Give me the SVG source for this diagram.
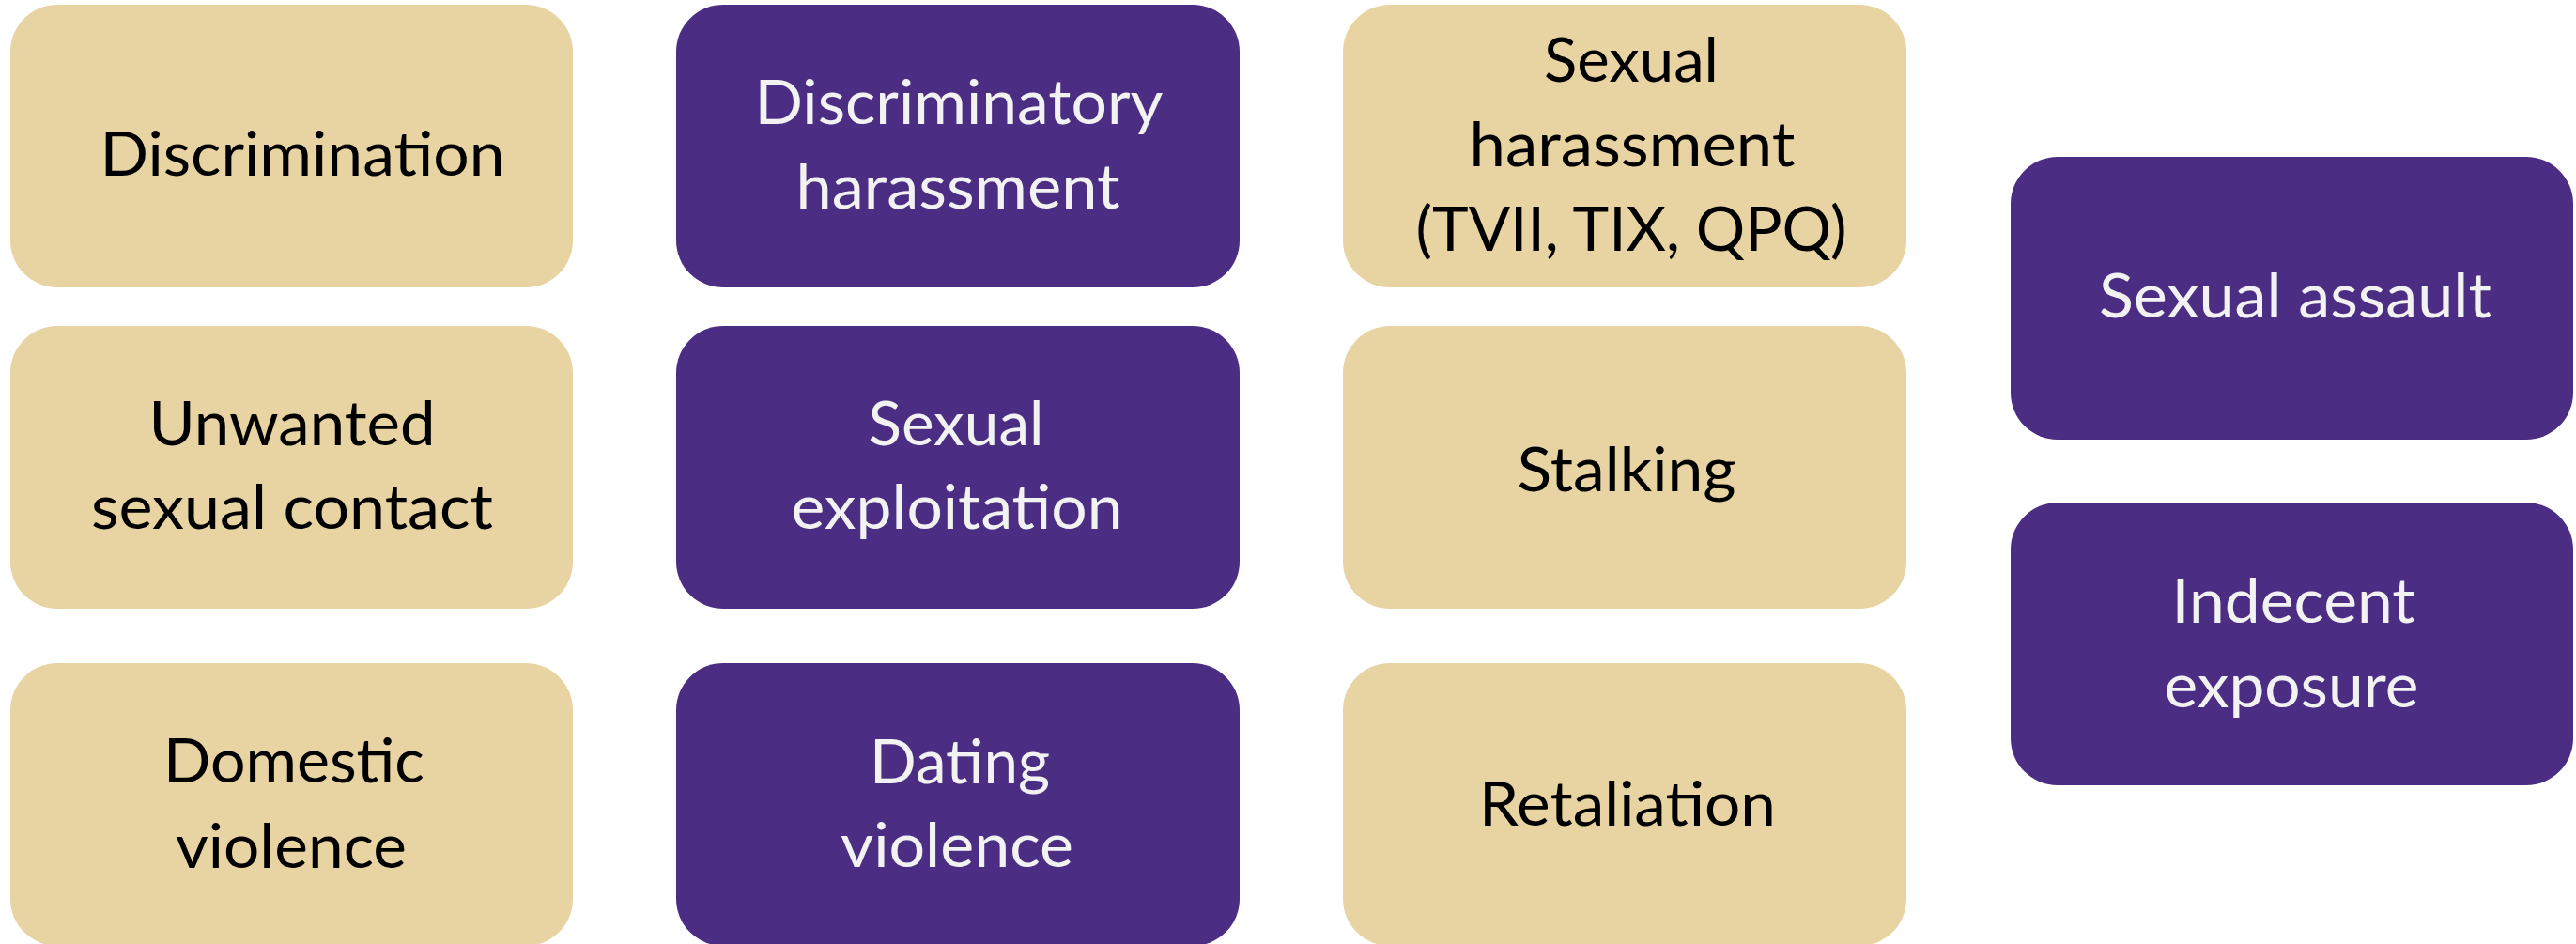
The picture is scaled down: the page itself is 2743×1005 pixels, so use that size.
<svg xmlns="http://www.w3.org/2000/svg" width="2743" height="1005" viewBox="0 0 2743 1005">
<style>
.gold{fill:#E8D3A2}
.purple{fill:#4B2E83}
text{font-family:Lato,"Open Sans","Liberation Sans",sans-serif;font-size:66px;text-anchor:middle}
.dk{fill:#000000}
.lt{fill:#F2F2F2}
</style>
<rect width="2743" height="1005" fill="#FFFFFF"/>
<g id="connectors"/>
<g id="n-discrimination">
<rect class="gold" x="11" y="5" width="599" height="301" rx="50" ry="50"/>
<text class="dk" x="322" y="187" textLength="431" lengthAdjust="spacingAndGlyphs">Discrimination</text>
</g>
<g id="n-unwanted">
<rect class="gold" x="11" y="347" width="599" height="301" rx="50" ry="50"/>
<text class="dk" x="311" y="474" textLength="305" lengthAdjust="spacingAndGlyphs">Unwanted</text>
<text class="dk" x="311" y="563" textLength="428" lengthAdjust="spacingAndGlyphs">sexual contact</text>
</g>
<g id="n-domestic">
<rect class="gold" x="11" y="706" width="599" height="301" rx="50" ry="50"/>
<text class="dk" x="313" y="833" textLength="278" lengthAdjust="spacingAndGlyphs">Domestic</text>
<text class="dk" x="310" y="924" textLength="246" lengthAdjust="spacingAndGlyphs">violence</text>
</g>
<g id="n-discriminatory-harassment">
<rect class="purple" x="720" y="5" width="600" height="301" rx="50" ry="50"/>
<text class="lt" x="1021" y="132" textLength="435" lengthAdjust="spacingAndGlyphs">Discriminatory</text>
<text class="lt" x="1020" y="222" textLength="345" lengthAdjust="spacingAndGlyphs">harassment</text>
</g>
<g id="n-sexual-exploitation">
<rect class="purple" x="720" y="347" width="600" height="301" rx="50" ry="50"/>
<text class="lt" x="1018" y="474" textLength="187" lengthAdjust="spacingAndGlyphs">Sexual</text>
<text class="lt" x="1019" y="563" textLength="353" lengthAdjust="spacingAndGlyphs">exploitation</text>
</g>
<g id="n-dating-violence">
<rect class="purple" x="720" y="706" width="600" height="301" rx="50" ry="50"/>
<text class="lt" x="1022" y="834" textLength="192" lengthAdjust="spacingAndGlyphs">Dating</text>
<text class="lt" x="1019" y="923" textLength="248" lengthAdjust="spacingAndGlyphs">violence</text>
</g>
<g id="n-sexual-harassment">
<rect class="gold" x="1430" y="5" width="600" height="301" rx="50" ry="50"/>
<text class="dk" x="1737" y="87" textLength="186" lengthAdjust="spacingAndGlyphs">Sexual</text>
<text class="dk" x="1738" y="177" textLength="347" lengthAdjust="spacingAndGlyphs">harassment</text>
<text class="dk" x="1737" y="267" textLength="459" lengthAdjust="spacingAndGlyphs">(TVII, TIX, QPQ)</text>
</g>
<g id="n-stalking">
<rect class="gold" x="1430" y="347" width="600" height="301" rx="50" ry="50"/>
<text class="dk" x="1732" y="523" textLength="233" lengthAdjust="spacingAndGlyphs">Stalking</text>
</g>
<g id="n-retaliation">
<rect class="gold" x="1430" y="706" width="600" height="301" rx="50" ry="50"/>
<text class="dk" x="1733" y="879" textLength="316" lengthAdjust="spacingAndGlyphs">Retaliation</text>
</g>
<g id="n-sexual-assault">
<rect class="purple" x="2141" y="167" width="599" height="301" rx="50" ry="50"/>
<text class="lt" x="2444" y="338" textLength="418" lengthAdjust="spacingAndGlyphs">Sexual assault</text>
</g>
<g id="n-indecent-exposure">
<rect class="purple" x="2141" y="535" width="599" height="301" rx="50" ry="50"/>
<text class="lt" x="2442" y="663" textLength="259" lengthAdjust="spacingAndGlyphs">Indecent</text>
<text class="lt" x="2440" y="753" textLength="271" lengthAdjust="spacingAndGlyphs">exposure</text>
</g>
</svg>
